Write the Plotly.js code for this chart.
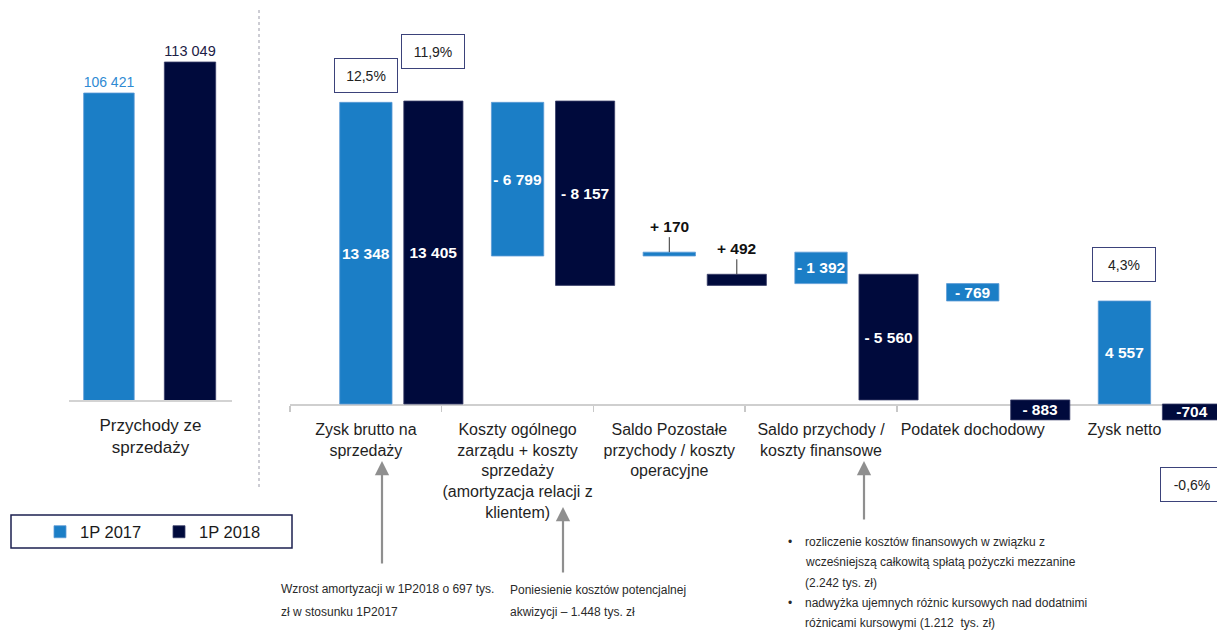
<!DOCTYPE html>
<html>
<head>
<meta charset="utf-8">
<script src="https://cdn.plot.ly/plotly-3.0.1.min.js"></script>
<style>
html,body{margin:0;padding:0;background:#ffffff;}
#chart{width:1217px;height:630px;}
</style>
</head>
<body>
<div id="chart"></div>
<script>
// ---------------- DATA ----------------
const seriesNames = ['1P 2017', '1P 2018'];

const revenueCategories = ['Przychody ze sprzedaży'];
const revenueTickLabels = ['Przychody ze<br>sprzedaży'];
const revenue2017 = [106421];
const revenue2018 = [113049];

const bridgeCategories = [
  'Zysk brutto na sprzedaży',
  'Koszty ogólnego zarządu + koszty sprzedaży (amortyzacja relacji z klientem)',
  'Saldo Pozostałe przychody / koszty operacyjne',
  'Saldo przychody / koszty finansowe',
  'Podatek dochodowy',
  'Zysk netto'
];
const bridgeTickLabels = [
  'Zysk brutto na<br>sprzedaży',
  'Koszty ogólnego<br>zarządu + koszty<br>sprzedaży<br>(amortyzacja relacji z<br>klientem)',
  'Saldo Pozostałe<br>przychody / koszty<br>operacyjne',
  'Saldo przychody /<br>koszty finansowe',
  'Podatek dochodowy',
  'Zysk netto'
];
const bridgeMeasures = ['absolute', 'relative', 'relative', 'relative', 'relative', 'absolute'];
const bridge2017 = [13348, -6799, 170, -1392, -769, 4557];
const bridge2018 = [13405, -8157, 492, -5560, -883, -704];
const marginPct2017 = [12.5, null, null, null, null, 4.3];
const marginPct2018 = [11.9, null, null, null, null, -0.6];

const note1Lines = ['Wzrost amortyzacji w 1P2018 o 697 tys.', 'zł w stosunku 1P2017'];
const note2Lines = ['Poniesienie kosztów potencjalnej', 'akwizycji – 1.448 tys. zł'];
const note3Bullets = [
  ['rozliczenie kosztów finansowych w związku z', 'wcześniejszą całkowitą spłatą pożyczki mezzanine', '(2.242 tys. zł)'],
  ['nadwyżka ujemnych różnic kursowych nad dodatnimi', 'różnicami kursowymi (1.212  tys. zł)']
];

// ---------------- STYLE ----------------
const W = 1217, H = 630;
const FONT = '"Liberation Sans", Arial, sans-serif';
const C17 = '#1b7ec6';
const C18 = '#000a3c';
const TXT = '#1f1f1f';
const px = x => x / W;
const py = y => 1 - y / H;

// ---------------- HELPERS ----------------
function grp(n) { return Math.abs(n).toString().replace(/\B(?=(\d{3})+(?!\d))/g, ' '); }
function bridgeLabel(v, m) {
  if (m === 'absolute') return (v < 0 ? '-' : '') + grp(v);
  return (v < 0 ? '- ' : '+ ') + grp(v);
}
function pct(v) { return v.toFixed(1).replace('.', ',') + '%'; }
function waterfall(values, measures) {
  let run = 0;
  const base = [], top = [], bottom = [];
  values.forEach((v, i) => {
    const b = measures[i] === 'absolute' ? 0 : run;
    base.push(b);
    run = b + v;
    top.push(Math.max(b, b + v));
    bottom.push(Math.min(b, b + v));
  });
  return { base, top, bottom };
}
const wf17 = waterfall(bridge2017, bridgeMeasures);
const wf18 = waterfall(bridge2018, bridgeMeasures);

// bar geometry (category units)
const G = {
  left17: { offset: -0.41, width: 0.31 },
  left18: { offset: 0.085, width: 0.315 },
  right17: { offset: -0.1725, width: 0.345 },
  right18: { offset: 0.25, width: 0.39 }
};
const center18 = G.right18.offset + G.right18.width / 2;

const insideText = (vals) => vals.map((v, i) => (bridgeMeasures[i] === 'relative' && v > 0) ? '' : bridgeLabel(v, bridgeMeasures[i]));

const traces = [
  {
    type: 'bar', name: seriesNames[0], legendgroup: 'a', showlegend: true,
    x: revenueCategories, y: revenue2017, xaxis: 'x', yaxis: 'y',
    offset: G.left17.offset, width: G.left17.width,
    marker: { color: C17, line: { color: '#5d9bd6', width: 0.8 } },
    text: revenue2017.map(grp), textposition: 'outside', cliponaxis: false,
    textfont: { family: FONT, size: 18, color: '#2f8ad3' }, hoverinfo: 'skip'
  },
  {
    type: 'bar', name: seriesNames[1], legendgroup: 'b', showlegend: true,
    x: revenueCategories, y: revenue2018, xaxis: 'x', yaxis: 'y',
    offset: G.left18.offset, width: G.left18.width,
    marker: { color: C18, line: { color: '#3a3f6a', width: 0.8 } },
    text: revenue2018.map(grp), textposition: 'outside', cliponaxis: false,
    textfont: { family: FONT, size: 18, color: '#1c2045' }, hoverinfo: 'skip'
  },
  {
    type: 'bar', name: seriesNames[0], legendgroup: 'a', showlegend: false,
    x: bridgeCategories, y: bridge2017, base: wf17.base, xaxis: 'x2', yaxis: 'y2',
    offset: G.right17.offset, width: G.right17.width,
    marker: { color: C17, line: { color: '#5d9bd6', width: 0.8 } },
    text: insideText(bridge2017), textposition: 'inside', insidetextanchor: 'middle',
    constraintext: 'none', textangle: 0,
    textfont: { family: FONT, size: 15.5, color: '#ffffff', weight: 'bold' }, hoverinfo: 'skip'
  },
  {
    type: 'bar', name: seriesNames[1], legendgroup: 'b', showlegend: false,
    x: bridgeCategories, y: bridge2018, base: wf18.base, xaxis: 'x2', yaxis: 'y2',
    offset: G.right18.offset, width: G.right18.width,
    marker: { color: C18, line: { color: '#3a3f6a', width: 0.8 } },
    text: insideText(bridge2018), textposition: 'inside', insidetextanchor: 'middle',
    constraintext: 'none', textangle: 0,
    textfont: { family: FONT, size: 15.5, color: '#ffffff', weight: 'bold' }, hoverinfo: 'skip'
  }
];

// ---------------- ANNOTATIONS ----------------
const annotations = [];

const boxShift = { above17: [9, 19], above18: [32], below18: [47] };
function marginBox(xpos, yval, text, above, shift) {
  annotations.push({
    xref: 'x2', yref: 'y2', x: xpos, y: yval, text: text, showarrow: false,
    yanchor: above ? 'bottom' : 'top', yshift: above ? shift : -shift,
    width: 56, height: 27, borderpad: 3, bordercolor: '#3b427a', borderwidth: 1,
    bgcolor: '#ffffff', font: { family: FONT, size: 14, color: '#222222' }
  });
}
let k17 = 0, k18a = 0, k18b = 0;
marginPct2017.forEach((p, i) => {
  if (p === null) return;
  marginBox(i, p >= 0 ? wf17.top[i] : wf17.bottom[i], pct(p), p >= 0, boxShift.above17[k17++]);
});
marginPct2018.forEach((p, i) => {
  if (p === null) return;
  if (p >= 0) marginBox(i + center18, wf18.top[i], pct(p), true, boxShift.above18[k18a++]);
  else marginBox(i + center18, wf18.bottom[i], pct(p), false, boxShift.below18[k18b++]);
});

function leader(xpos, yval, text) {
  annotations.push({
    xref: 'x2', yref: 'y2', x: xpos, y: yval, text: text,
    showarrow: true, arrowhead: 0, arrowwidth: 1, arrowcolor: '#333333',
    ax: 0, ay: -15, yanchor: 'bottom',
    font: { family: FONT, size: 15.5, color: '#111111', weight: 'bold' }
  });
}
bridge2017.forEach((v, i) => { if (bridgeMeasures[i] === 'relative' && v > 0) leader(i, wf17.top[i], bridgeLabel(v, 'relative')); });
bridge2018.forEach((v, i) => { if (bridgeMeasures[i] === 'relative' && v > 0) leader(i + center18, wf18.top[i], bridgeLabel(v, 'relative')); });

function upArrow(x, yHead, yTail) {
  annotations.push({
    xref: 'paper', yref: 'paper', x: px(x), y: py(yHead), text: '',
    showarrow: true, arrowhead: 2, arrowsize: 1.3, arrowwidth: 2.2, arrowcolor: '#8f8f8f',
    ax: 0, ay: yTail - yHead, axref: 'pixel', ayref: 'pixel'
  });
}
upArrow(382, 461, 565);
upArrow(563, 507, 574);
upArrow(864, 461, 521);

function noteLine(x, y, text) {
  annotations.push({
    xref: 'paper', yref: 'paper', x: px(x), y: py(y), xanchor: 'left', yanchor: 'middle',
    text: text, showarrow: false, font: { family: FONT, size: 12, color: '#2a2a2a' }
  });
}
note1Lines.forEach((t, i) => noteLine(279, 589 + i * 23, t));
note2Lines.forEach((t, i) => noteLine(508, 590 + i * 22, t));
let ly = 542;
note3Bullets.forEach(lines => {
  noteLine(786, ly, '•');
  lines.forEach(t => { noteLine(803, ly, t); ly += 20.3; });
});

// ---------------- LAYOUT ----------------
const layout = {
  width: W, height: H,
  margin: { l: 0, r: 0, t: 0, b: 0, pad: 0 },
  paper_bgcolor: '#ffffff', plot_bgcolor: 'rgba(0,0,0,0)',
  font: { family: FONT, color: TXT },
  barmode: 'overlay',
  showlegend: true,
  legend: {
    orientation: 'h', x: px(40), y: py(532), xanchor: 'left', yanchor: 'middle',
    bgcolor: 'rgba(0,0,0,0)', borderwidth: 0,
    font: { family: FONT, size: 16.5, color: '#1a1a1a' },
    entrywidth: 74, entrywidthmode: 'pixels', traceorder: 'normal'
  },
  xaxis: {
    domain: [px(69), px(232)], type: 'category', range: [-0.5, 0.5], anchor: 'y',
    showline: true, linecolor: '#d3d3d3', linewidth: 1.5, ticks: '', showgrid: false,
    tickvals: revenueCategories, ticktext: revenueTickLabels, tickangle: 0,
    ticklabelstandoff: 9,
    tickfont: { family: FONT, size: 17, color: TXT }, fixedrange: true
  },
  yaxis: {
    domain: [1 - 400 / H, 1], range: [40781, 126306], visible: false, fixedrange: true
  },
  xaxis2: {
    domain: [px(290), 1], type: 'category', range: [-0.5, 5.61],
    anchor: 'free', position: 1 - 404 / H, layer: 'below traces',
    showline: true, linecolor: '#cfcfcf', linewidth: 1.5, showgrid: false,
    tickvals: bridgeCategories, ticktext: bridgeTickLabels, tickson: 'boundaries', tickangle: 0,
    ticks: 'outside', ticklen: 6, tickcolor: '#c8c8c8', tickwidth: 1.5,
    ticklabelstandoff: 10,
    tickfont: { family: FONT, size: 16, color: TXT }, fixedrange: true
  },
  yaxis2: {
    domain: [0, 1], range: [-10000, 17876], anchor: 'x2', visible: false,
    showgrid: false, zeroline: false, fixedrange: true
  },
  shapes: [
    { type: 'line', xref: 'paper', yref: 'paper', x0: px(259), x1: px(259), y0: py(10), y1: py(488),
      line: { color: '#9a9aa8', width: 1, dash: 'dot' } },
    { type: 'rect', xref: 'paper', yref: 'paper', x0: px(11), x1: px(292), y0: py(548), y1: py(515),
      line: { color: '#1c2050', width: 1.5 }, fillcolor: 'rgba(0,0,0,0)' }
  ],
  annotations: annotations
};

Plotly.newPlot('chart', traces, layout, { displayModeBar: false, staticPlot: true });
</script>
</body>
</html>
